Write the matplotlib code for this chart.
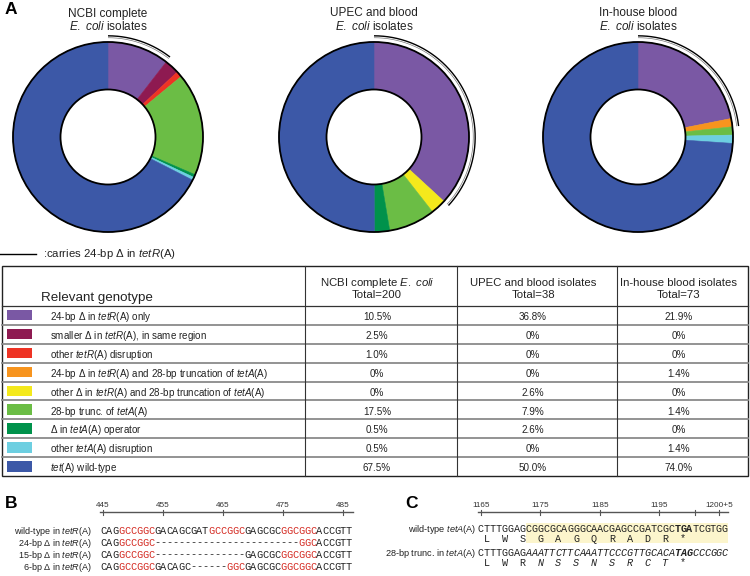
import numpy as np
import matplotlib
matplotlib.use('Agg')
import matplotlib.pyplot as plt
from matplotlib.patches import Rectangle, Circle

plt.rcParams['font.family'] = ['Liberation Sans', 'DejaVu Sans']
plt.rcParams['mathtext.fontset'] = 'custom'
plt.rcParams['mathtext.rm'] = 'Liberation Sans'
plt.rcParams['mathtext.it'] = 'Liberation Sans:italic'
plt.rcParams['mathtext.bf'] = 'Liberation Sans:bold'

# ---- data ----
genotypes = [
    r"24-bp Δ in $\mathit{tetR}$(A) only",
    r"smaller Δ in $\mathit{tetR}$(A), in same region",
    r"other $\mathit{tetR}$(A) disruption",
    r"24-bp Δ in $\mathit{tetR}$(A) and 28-bp truncation of $\mathit{tetA}$(A)",
    r"other Δ in $\mathit{tetR}$(A) and 28-bp truncation of $\mathit{tetA}$(A)",
    r"28-bp trunc. of $\mathit{tetA}$(A)",
    r"Δ in $\mathit{tetA}$(A) operator",
    r"other $\mathit{tetA}$(A) disruption",
    r"$\mathit{tet}$(A) wild-type",
]
colors = ['#7a58a4', '#8e1a51', '#ee3324', '#f7941e', '#f4e91c',
          '#6bbd45', '#00924b', '#6dcfe1', '#3c58a7']
ncbi = [10.5, 2.5, 1.0, 0, 0, 17.5, 0.5, 0.5, 67.5]
upec = [36.8, 0, 0, 0, 2.6, 7.9, 2.6, 0, 50.0]
inhouse = [21.9, 0, 0, 1.4, 0, 1.4, 0, 1.4, 74.0]
carriers_24bp = [0, 3]   # genotypes that carry the 24-bp deletion

groups = ["NCBI complete", "UPEC and blood", "In-house blood"]
col_headers = [r"NCBI complete $\mathit{E.\ coli}$", "UPEC and blood isolates",
               "In-house blood isolates"]
totals = [200, 38, 73]

# panel B: tetR(A) sequences, segments flagged 1 are the GGC repeats
ruler_b = [445, 455, 465, 475, 485]
seqs_b = {
    "wild-type": [("CAG", 0), ("GCCGGC", 1), ("GACAGCGAT", 0), ("GCCGGC", 1),
                  ("GAGCGC", 0), ("GGCGGC", 1), ("ACCGTT", 0)],
    "24-bp Δ": [("CAG", 0), ("GCCGGC", 1), ("-" * 24, 0), ("GGC", 1),
                ("ACCGTT", 0)],
    "15-bp Δ": [("CAG", 0), ("GCCGGC", 1), ("-" * 15, 0), ("GAGCGC", 0),
                ("GGCGGC", 1), ("ACCGTT", 0)],
    "6-bp Δ": [("CAG", 0), ("GCCGGC", 1), ("GACAGC", 0), ("-" * 6, 0),
               ("GGC", 1), ("GAGCGC", 0), ("GGCGGC", 1), ("ACCGTT", 0)],
}

# panel C: tetA(A) 3' end
ruler_c = ["1165", "1175", "1185", "1195", "", "1200+5"]
ruler_c_idx = [0, 10, 20, 30, 36, 40]
wt_tetA = "CTTTGGAGCGGCGCAGGGCAACGAGCCGATCGCTGATCGTGG"
wt_aa = "LWSGAGQRADR*"
trunc_tetA = "CTTTGGAGAAATTCTTCAAATTCCCGTTGCACATAGCCCGGC"
trunc_aa = "LWRNSSNSRCT*"
wt_stop = 33
trunc_stop = 33
trunc_start = 8

# ---- figure ----
W, H = 750, 576
fig = plt.figure(figsize=(W / 100, H / 100), dpi=100)
ax0 = fig.add_axes([0, 0, 1, 1])
ax0.set_xlim(0, W)
ax0.set_ylim(H, 0)
ax0.axis('off')

ax0.text(5, 14.5, "A", fontsize=12.5, fontweight='bold')


def donut(cx, cy, values, title, r=95, pad=1.2):
    half = r * pad
    ax = fig.add_axes([(cx - half) / W, 1 - (cy + half) / H, 2 * half / W, 2 * half / H])
    vals = [v for v in values if v > 0]
    cols = [c for v, c in zip(values, colors) if v > 0]
    wedges, _ = ax.pie(vals, colors=cols, startangle=90, counterclock=False,
                       radius=1, wedgeprops=dict(width=0.5, linewidth=0))
    for w in wedges:
        w.set_edgecolor(w.get_facecolor())
        w.set_linewidth(0.4)
    ax.add_patch(Circle((0, 0), 1, fill=False, ec='black', lw=1.3))
    ax.add_patch(Circle((0, 0), 0.5, fill=False, ec='black', lw=1.3))
    total = sum(values)
    cum = np.concatenate([[0], np.cumsum(values)])
    idx = [i for i in carriers_24bp if values[i] > 0]
    a0 = 90 - 360 * cum[idx[0]] / total
    a1 = 90 - 360 * cum[idx[-1] + 1] / total
    th = np.radians(np.linspace(a0, a1, 200))
    for rr, lw, c in [(1.045, 0.5, '#777777'), (1.065, 1.0, 'black')]:
        ax.plot(rr * np.cos(th), rr * np.sin(th), color=c, lw=lw,
                solid_capstyle='butt')
    ax.set_xlim(-pad, pad)
    ax.set_ylim(-pad, pad)
    ax.set_aspect('equal')
    ax.axis('off')
    ax0.text(cx, 16.5, title, ha='center', fontsize=8.5, color='#222222')
    ax0.text(cx, 30, r"$\mathit{E.\ coli}$ isolates", ha='center', fontsize=8.5,
             color='#222222')


donut(108, 137, ncbi, groups[0])
donut(374, 137, upec, groups[1])
donut(638, 137, inhouse, groups[2])

# legend line for arcs
ax0.plot([0, 36], [253.5, 253.5], color='black', lw=1)
ax0.text(43, 257, r":carries 24-bp Δ in $\mathit{tetR}$(A)", fontsize=8.2, color='#222222')

# ---- table ----
tx0, tx1 = 2, 748
ty0, thead = 266, 306
row_h = (476 - thead) / len(genotypes)
col_x = [305, 457, 617]
centers = [(col_x[0] + col_x[1]) / 2 - 4, (col_x[1] + col_x[2]) / 2 - 4,
           (col_x[2] + tx1) / 2 - 4]
ybot = thead + row_h * len(genotypes)
for i in range(1, len(genotypes)):
    y = thead + i * row_h
    ax0.plot([tx0, tx1], [y, y], color='#8a8a8a', lw=1.3)
ax0.plot([tx0, tx1], [thead, thead], color='#333333', lw=0.9)
for x in col_x:
    ax0.plot([x, x], [ty0, ybot], color='#333333', lw=0.8)
ax0.add_patch(Rectangle((tx0, ty0), tx1 - tx0, ybot - ty0, fill=False,
                        ec='#222222', lw=1.0))
ax0.text(41, 301, "Relevant genotype", fontsize=9.6, color='#222222')
for c, hdr, tot in zip(centers, col_headers, totals):
    ax0.text(c, 286, hdr, ha='center', fontsize=8.2, color='#222222')
    ax0.text(c, 298.5, f"Total={tot}", ha='center', fontsize=8.2, color='#222222')

for i, (g, col) in enumerate(zip(genotypes, colors)):
    top = thead + i * row_h
    ax0.add_patch(Rectangle((7, top + 4), 25, row_h - 8.5, color=col, lw=0))
    ax0.text(50, top + row_h - 4.8, g, fontsize=7.1, color='#222222')
    for c, vals in zip(centers, [ncbi, upec, inhouse]):
        v = vals[i]
        s = "0%" if v == 0 else f"{v:.1f}%"
        ax0.text(c, top + row_h - 4.8, s, ha='center', fontsize=7.1, color='#222222')

# ---- panel B ----
mono = 'Liberation Mono'
ax0.text(5, 508.5, "B", fontsize=12.5, fontweight='bold')
bx0, cw = 100, 6.0
ax0.plot([bx0, 353], [512, 512], color='#555555', lw=1)
for k, lab in enumerate(ruler_b):
    x = bx0 + (k * 10 + 0.5) * cw
    ax0.plot([x, x], [509.5, 514.5], color='#555555', lw=0.8)
    ax0.text(x, 507, str(lab), ha='center', fontsize=5.9, color='#333333')

for j, (name, segs) in enumerate(seqs_b.items()):
    y = 533.5 + j * 12
    ax0.text(91, y, name + r" in $\mathit{tetR}$(A)", ha='right', fontsize=6.5,
             color='#222222')
    i = 0
    for s, rep in segs:
        for ch in s:
            ax0.text(bx0 + (i + 0.5) * cw, y, ch, ha='center', family=mono,
                     fontsize=7.4, color='#d42a22' if rep else '#222222')
            i += 1

# ---- panel C ----
ax0.text(405, 508.5, "C", fontsize=12.5, fontweight='bold')
cx0, cwc = 478, 5.95
ax0.plot([cx0, cx0 + 42 * cwc], [512, 512], color='#555555', lw=1)
for lab, k in zip(ruler_c, ruler_c_idx):
    x = cx0 + (k + 0.5) * cwc
    ax0.plot([x, x], [509.5, 514.5], color='#555555', lw=0.8)
    if lab:
        ax0.text(x, 507, lab, ha='center', fontsize=5.9, color='#333333')

ax0.add_patch(Rectangle((cx0 + 8 * cwc, 523), 34 * cwc, 20, color='#fcf5cc', lw=0))
ax0.text(476, 532, r"wild-type $\mathit{tetA}$(A)", ha='right', fontsize=6.6,
         color='#222222')
ax0.text(476, 556.5, r"28-bp trunc. in $\mathit{tetA}$(A)", ha='right', fontsize=6.6,
         color='#222222')
for i, ch in enumerate(wt_tetA):
    bold = wt_stop <= i < wt_stop + 3
    ax0.text(cx0 + (i + 0.5) * cwc, 532, ch, ha='center', family=mono, fontsize=7.3,
             fontweight='bold' if bold else 'normal', color='#222222')
for i, ch in enumerate(trunc_tetA):
    bold = trunc_stop <= i < trunc_stop + 3
    ital = i >= trunc_start
    ax0.text(cx0 + (i + 0.5) * cwc, 556.5, ch, ha='center', family=mono, fontsize=7.3,
             fontweight='bold' if bold else 'normal',
             style='italic' if ital else 'normal', color='#222222')
for k, aa in enumerate(wt_aa):
    ax0.text(cx0 + (3 * k + 1.5) * cwc, 541.5, aa, ha='center', family=mono,
             fontsize=7.3, color='#222222')
for k, aa in enumerate(trunc_aa):
    ital = 3 * k >= trunc_start and aa != '*'
    ax0.text(cx0 + (3 * k + 1.5) * cwc, 565.5, aa, ha='center', family=mono,
             fontsize=7.3, style='italic' if ital else 'normal', color='#222222')

fig.savefig('out.png', dpi=100)
